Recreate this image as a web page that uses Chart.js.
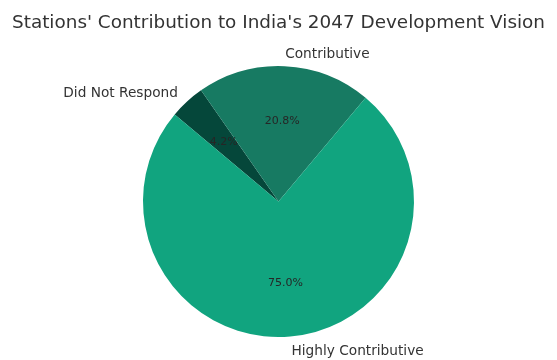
<!DOCTYPE html>
<html>
<head>
<meta charset="utf-8">
<script src="https://cdn.jsdelivr.net/npm/chart.js@4"></script>
<style>
  html, body { margin: 0; padding: 0; background: #ffffff; }
  #wrap { width: 557px; height: 360px; }
</style>
</head>
<body>
<div id="wrap"><canvas id="pie" width="557" height="360"></canvas></div>
<script>
// survey answers, listed in drawing order (clockwise from the top-left)
const categories = ['Did Not Respond', 'Contributive', 'Highly Contributive'];
const shares = [4.2, 20.8, 75.0];
const sliceColors = ['#05473a', '#177a62', '#11a47f'];

const chartTitle = "Stations' Contribution to India's 2047 Development Vision";
const textColor = '#333333';

// labels outside the wedges and percentages inside, like a matplotlib pie
const pieLabels = {
    id: 'pieLabels',
    afterDatasetsDraw(chart) {
        const ctx = chart.ctx;
        const meta = chart.getDatasetMeta(0);
        ctx.save();
        meta.data.forEach((arc, i) => {
            const mid = (arc.startAngle + arc.endAngle) / 2;
            const r = arc.outerRadius;
            const cx = Math.cos(mid), cy = Math.sin(mid);

            // category name at 1.1 x radius
            ctx.font = '13.7px "DejaVu Sans"';
            ctx.fillStyle = textColor;
            ctx.textBaseline = 'middle';
            ctx.textAlign = cx >= 0 ? 'left' : 'right';
            ctx.fillText(categories[i], arc.x + cx * r * 1.1, arc.y + cy * r * 1.1 + 1.5);

            // percentage at 0.6 x radius
            ctx.font = '11px "DejaVu Sans"';
            ctx.fillStyle = '#262626';
            ctx.textAlign = 'center';
            ctx.fillText(shares[i].toFixed(1) + '%', arc.x + cx * r * 0.6, arc.y + cy * r * 0.6 + 0.5);
        });

        // title
        ctx.font = '18.4px "DejaVu Sans"';
        ctx.fillStyle = textColor;
        ctx.textAlign = 'center';
        ctx.textBaseline = 'alphabetic';
        ctx.fillText(chartTitle, chart.width / 2, 27.5);
        ctx.restore();
    }
};

new Chart(document.getElementById('pie'), {
    type: 'pie',
    data: {
        labels: categories,
        datasets: [{
            data: shares,
            backgroundColor: sliceColors,
            borderWidth: 0
        }]
    },
    options: {
        responsive: false,
        animation: false,
        rotation: -50,
        layout: { padding: { left: 143, right: 143, top: 66, bottom: 23 } },
        plugins: {
            legend: { display: false },
            tooltip: { enabled: false }
        }
    },
    plugins: [pieLabels]
});
</script>
</body>
</html>
